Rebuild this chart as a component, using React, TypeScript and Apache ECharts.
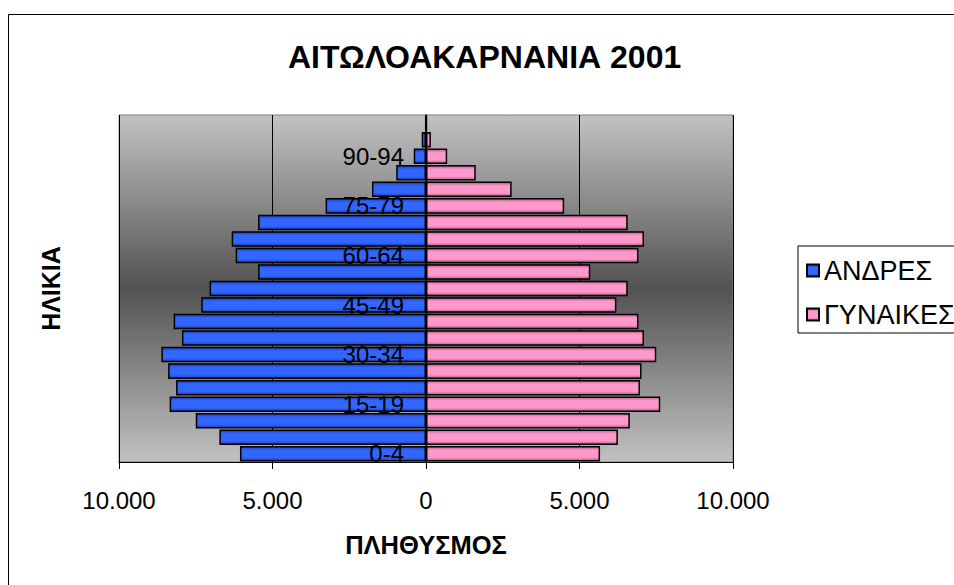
import React, { useEffect, useRef } from "react";
import * as echarts from "echarts";

const categories = ["0-4","5-9","10-14","15-19","20-24","25-29","30-34","35-39","40-44","45-49","50-54","55-59","60-64","65-69","70-74","75-79","80-84","85-89","90-94","95-99","100+"];
const males = [6060, 6730, 7500, 8350, 8140, 8400, 8620, 7950, 8220, 7320, 7050, 5470, 6200, 6330, 5470, 3270, 1760, 970, 400, 140, 20];
const females = [5670, 6250, 6640, 7630, 6970, 7020, 7500, 7100, 6920, 6200, 6570, 5350, 6920, 7100, 6570, 4500, 2790, 1620, 690, 160, 30];
const xTicks = { min: -10000, max: 10000, interval: 5000 };

const FONT = "'Liberation Sans', Arial, sans-serif";

function fmt(v: number) {
  const a = Math.abs(Math.round(v));
  return String(a).replace(/\B(?=(\d{3})+(?!\d))/g, ".");
}

function grad(edge: string, main: string) {
  return new echarts.graphic.LinearGradient(0, 0, 0, 1, [
    { offset: 0, color: edge },
    { offset: 0.25, color: main },
    { offset: 0.75, color: main },
    { offset: 1, color: edge },
  ]);
}

const GRID_LEFT = 119;
const GRID_WIDTH = 614;

export default function App() {
  const ref = useRef<HTMLDivElement>(null);
  useEffect(() => {
    if (!ref.current) return;
    const chart = echarts.init(ref.current, undefined, { renderer: "svg" });
    chart.setOption({
      animation: false,
      backgroundColor: "#ffffff",
      textStyle: { fontFamily: FONT },
      title: {
        text: "ΑΙΤΩΛΟΑΚΑΡΝΑΝΙΑ 2001",
        left: 288,
        top: 41,
        padding: 0,
        textStyle: { fontFamily: FONT, fontSize: 32, fontWeight: "bold", color: "#000" },
      },
      legend: {
        orient: "vertical",
        left: 798,
        top: 246,
        padding: [11, 10, 5, 8],
        itemGap: 17,
        itemWidth: 12,
        itemHeight: 12,
        borderColor: "#000",
        borderWidth: 1,
        backgroundColor: "#fff",
        icon: "rect",
        textStyle: { fontFamily: FONT, fontSize: 27, color: "#000" },
        data: ["ΑΝΔΡΕΣ", "ΓΥΝΑΙΚΕΣ"],
      },
      graphic: [
        {
          type: "line",
          shape: { x1: 8.5, y1: 14.5, x2: 960, y2: 14.5 },
          style: { stroke: "#000", lineWidth: 1 },
          silent: true,
          z: 100,
        },
        {
          type: "line",
          shape: { x1: 8.5, y1: 14.5, x2: 8.5, y2: 600 },
          style: { stroke: "#000", lineWidth: 1 },
          silent: true,
          z: 100,
        },
      ],
      grid: {
        left: GRID_LEFT,
        top: 115,
        width: GRID_WIDTH,
        height: 347,
        show: true,
        borderColor: "#808080",
        borderWidth: 1,
        backgroundColor: new echarts.graphic.LinearGradient(0, 0, 0, 1, [
          { offset: 0, color: "#c2c2c2" },
          { offset: 0.5, color: "#525252" },
          { offset: 1, color: "#c2c2c2" },
        ]),
      },
      xAxis: {
        type: "value",
        min: xTicks.min,
        max: xTicks.max,
        interval: xTicks.interval,
        name: "ΠΛΗΘΥΣΜΟΣ",
        nameLocation: "middle",
        nameGap: 70,
        nameTextStyle: { fontFamily: FONT, fontSize: 25.5, fontWeight: "bold", color: "#000" },
        axisLine: { show: true, lineStyle: { color: "#000", width: 1 } },
        axisTick: { show: true, length: 7, lineStyle: { color: "#000" } },
        axisLabel: { formatter: (v: number) => fmt(v), fontSize: 24, color: "#000", margin: 26, fontFamily: FONT },
        splitLine: { show: true, lineStyle: { color: "#000", width: 1 } },
      },
      yAxis: [
        {
          type: "category",
          data: categories,
          position: "left",
          offset: -GRID_WIDTH / 2,
          axisLine: { show: true, onZero: false, lineStyle: { color: "#000", width: 1.5 } },
          axisTick: { show: false },
          axisLabel: { interval: 2, fontSize: 24, color: "#000", margin: 22, fontFamily: FONT },
          z: 10,
        },
        {
          type: "category",
          data: categories,
          position: "left",
          offset: 0,
          name: "ΗΛΙΚΙΑ",
          nameLocation: "middle",
          nameGap: 56,
          nameTextStyle: { fontFamily: FONT, fontSize: 25, fontWeight: "bold", color: "#000" },
          axisLine: { show: false, onZero: false },
          axisTick: { show: false },
          axisLabel: { show: false },
          splitLine: { show: false },
        },
      ],
      series: [
        {
          name: "ΑΝΔΡΕΣ",
          type: "bar",
          stack: "pop",
          barCategoryGap: "6%",
          data: males.map((v) => -v),
          itemStyle: { color: grad("#1d3fb8", "#3366ff"), borderColor: "#000", borderWidth: 1.5 },
        },
        {
          name: "ΓΥΝΑΙΚΕΣ",
          type: "bar",
          stack: "pop",
          barCategoryGap: "6%",
          data: females,
          itemStyle: { color: grad("#b85c8c", "#ff99cc"), borderColor: "#000", borderWidth: 1.5 },
        },
      ],
    });
    return () => chart.dispose();
  }, []);
  return (
    <div
      ref={ref}
      style={{ position: "fixed", left: 0, top: 0, width: 954, height: 585 }}
    />
  );
}
